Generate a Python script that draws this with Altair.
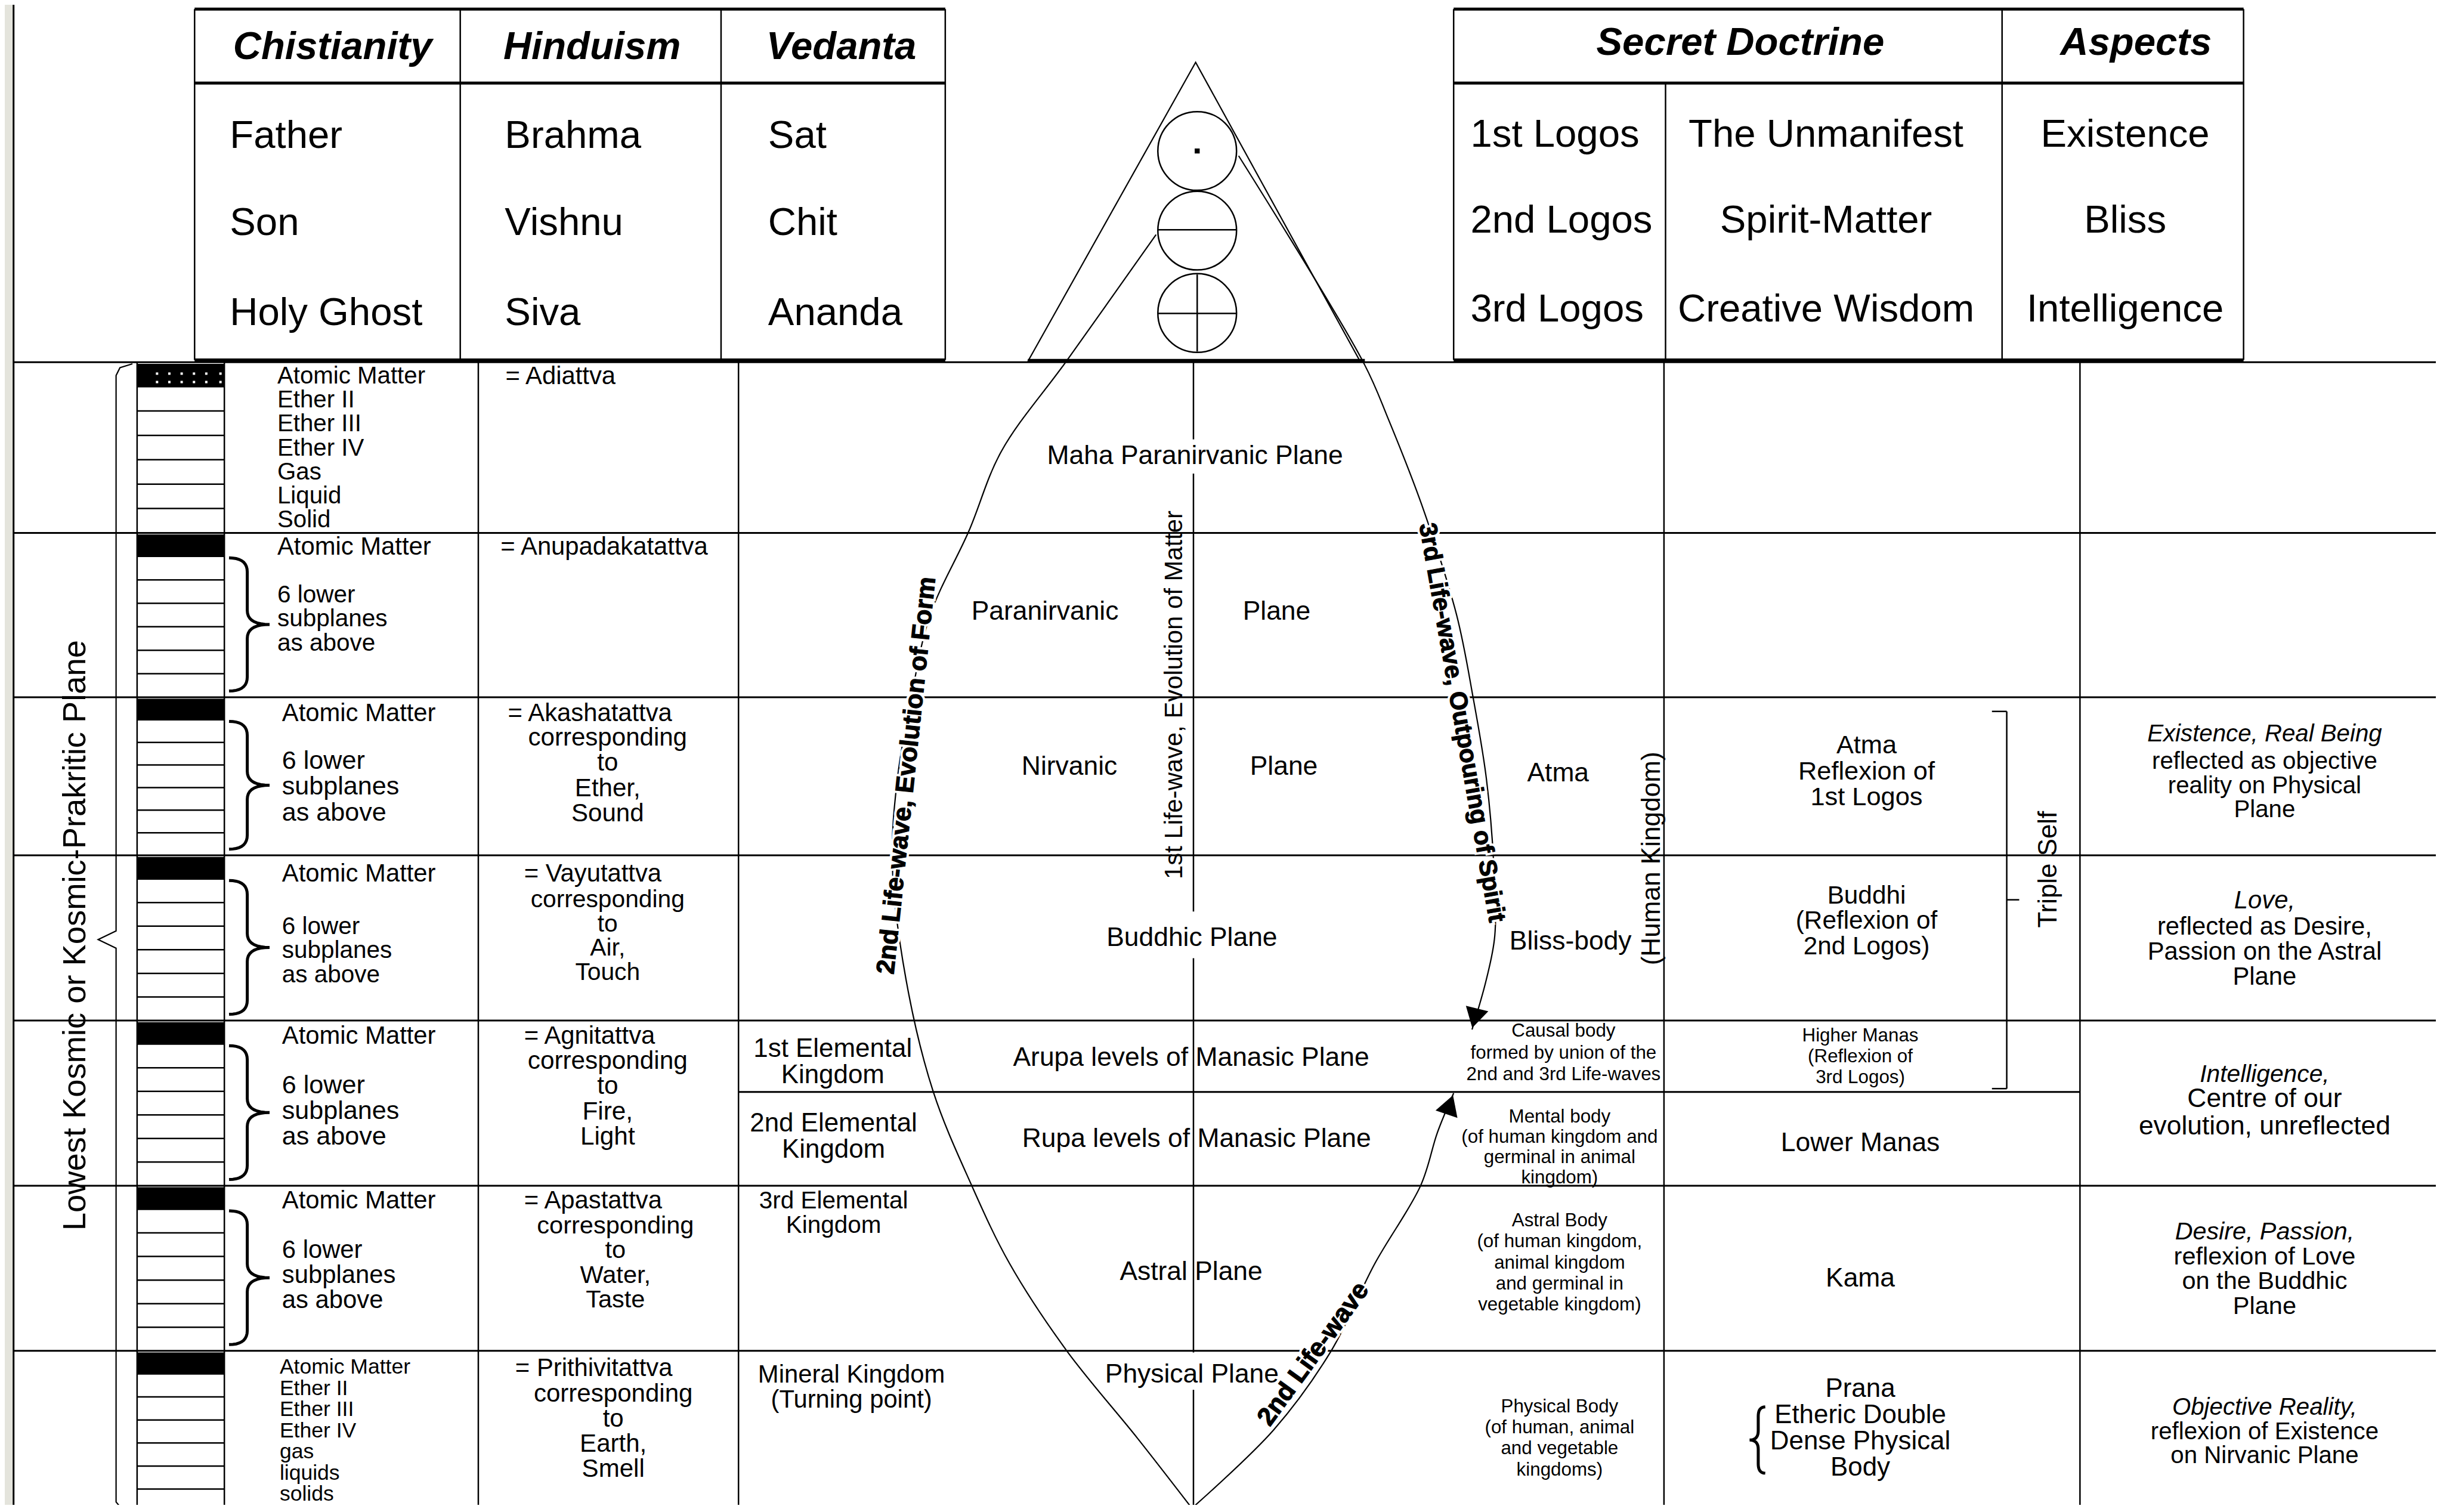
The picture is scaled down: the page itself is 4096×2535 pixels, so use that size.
import altair as alt
import pandas as pd
import numpy as np

# ---------------- geometry of the page (reference units: 1568 x 970 picture) ----------------
S = 4096 / 1568.0            # output pixels per reference unit
VIEW_W, VIEW_H = 4076, 2515
XD = [8 / S, 8 / S + VIEW_W / S]
YD = [8 / S, 8 / S + VIEW_H / S]
FONT = "Liberation Sans"

# ---------------- content ----------------
LEFT_HEADERS = ["Chistianity", "Hinduism", "Vedanta"]
LEFT_COLS = [["Father", "Son", "Holy Ghost"],
             ["Brahma", "Vishnu", "Siva"],
             ["Sat", "Chit", "Ananda"]]
RIGHT_HEADERS = ["Secret Doctrine", "Aspects"]
RIGHT_COLS = [["1st Logos", "2nd Logos", "3rd Logos"],
              ["The Unmanifest", "Spirit-Matter", "Creative Wisdom"],
              ["Existence", "Bliss", "Intelligence"]]

PLANE_EDGES = [232.5, 342, 447.5, 549, 655, 761, 867, 975]

SUBPLANES_TOP = ["Atomic Matter", "Ether II", "Ether III", "Ether IV", "Gas", "Liquid", "Solid"]
SUBPLANES_BOTTOM = ["Atomic Matter", "Ether II", "Ether III", "Ether IV", "gas", "liquids", "solids"]
LOWER_SIX = ["6 lower", "subplanes", "as above"]
TATTVAS = ["= Adiattva", "= Anupadakatattva", "= Akashatattva", "= Vayutattva",
           "= Agnitattva", "= Apastattva", "= Prithivitattva"]
ELEMENTS = [["Ether,", "Sound"], ["Air,", "Touch"], ["Fire,", "Light"],
            ["Water,", "Taste"], ["Earth,", "Smell"]]
KINGDOMS = [["1st Elemental", "Kingdom"], ["2nd Elemental", "Kingdom"],
            ["3rd Elemental", "Kingdom"], ["Mineral Kingdom", "(Turning point)"]]
PLANES = ["Maha Paranirvanic Plane", "Paranirvanic", "Plane", "Nirvanic", "Plane",
          "Buddhic Plane", "Arupa levels of Manasic Plane", "Rupa levels of Manasic Plane",
          "Astral Plane", "Physical Plane"]
BODIES_BIG = ["Atma", "Bliss-body"]
BODIES_SMALL = [["Causal body", "formed by union of the", "2nd and 3rd Life-waves"],
                ["Mental body", "(of human kingdom and", "germinal in animal", "kingdom)"],
                ["Astral Body", "(of human kingdom,", "animal kingdom", "and germinal in", "vegetable kingdom)"],
                ["Physical Body", "(of human, animal", "and vegetable", "kingdoms)"]]
PRINCIPLES = [["Atma", "Reflexion of", "1st Logos"],
              ["Buddhi", "(Reflexion of", "2nd Logos)"],
              ["Higher Manas", "(Reflexion of", "3rd Logos)"],
              ["Lower Manas"], ["Kama"],
              ["Prana", "Etheric Double", "Dense Physical", "Body"]]
ASPECT_HEADS = ["Existence, Real Being", "Love,", "Intelligence,", "Desire, Passion,", "Objective Reality,"]
ASPECT_LINES = [["reflected as objective", "reality on Physical", "Plane"],
                ["reflected as Desire,", "Passion on the Astral", "Plane"],
                ["Centre of our", "evolution, unreflected"],
                ["reflexion of Love", "on the Buddhic", "Plane"],
                ["reflexion of Existence", "on Nirvanic Plane"]]
VERTICAL_LABELS = ["Lowest Kosmic or Kosmic-Prakritic Plane", "1st Life-wave, Evolution of Matter",
                   "(Human Kingdom)", "Triple Self"]
WAVE_LABELS = ["2nd Life-wave, Evolution of Form", "3rd Life-wave, Outpouring of Spirit", "2nd Life-wave"]

# curves
LEFT_ARC = [(742, 150.6), (684.3, 232), (642.7, 289.7), (621.7, 341.2), (597, 394.7), (585, 447),
            (576, 499.7), (572.7, 554.3), (581.5, 628.6), (599, 700.7), (623.5, 760.5), (648, 811),
            (684.7, 867), (730, 923), (765, 968)]
RIGHT_ARC = [(795, 100), (875.3, 233), (891, 268.8), (913.8, 327.6), (934.9, 394.7), (945.4, 447.2),
             (954, 499.7), (958.7, 554.3), (959.4, 600.6), (954, 628.6), (944.8, 660.8)]
RISING_WAVE = [(765, 968), (817.6, 917.6), (854.4, 867), (882.4, 811), (912, 760.5), (922.6, 726.8),
               (933, 701.6)]
TRIANGLE = [(659.7, 232), (767.4, 40), (873, 232)]
KOSMIC_BRACKET = [(85, 233.5), (77, 236), (74.5, 241), (74.5, 597.5), (63, 603), (74.5, 608.6),
                  (74.5, 964), (77, 967), (85, 969)]
CIRCLES = [(768.4, 96.9), (768.4, 148), (768.4, 200.9)]

# ---------------- build tables ----------------
texts = {"c": [], "l": [], "bi": [], "i": [], "b": []}


def add(style, t, x, y, size, angle=0):
    texts[style].append({"text": t, "x": x, "y": y, "size": size * S, "angle": angle})


def block(style, lines, x, y0, step, size):
    if step > 0:
        size = min(size, step)
    for k, t in enumerate(lines):
        add(style, t, x, y0 + k * step, size)


BIG, MID, SMALL = 25, 17, 12

# top tables
for t, x in zip(LEFT_HEADERS, [213.5, 380, 540]):
    add("bi", t, x, 30.3, BIG)
for col, x in zip(LEFT_COLS, [147.5, 324, 493]):
    for t, y in zip(col, [87.3, 143, 201]):
        add("l", t, x, y, BIG)
for t, x in zip(RIGHT_HEADERS, [1117, 1371]):
    add("bi", t, x, 27.7, BIG)
for t, y in zip(RIGHT_COLS[0], [86.4, 141.8, 198.7]):
    add("l", t, 943.8, y, BIG)
for t, y in zip(RIGHT_COLS[1], [86.4, 141.8, 198.7]):
    add("c", t, 1172, y, BIG)
for t, y in zip(RIGHT_COLS[2], [86.4, 141.8, 198.7]):
    add("c", t, 1364, y, BIG)

# subplane column
block("l", SUBPLANES_TOP, 178, 241.5, 15.4, MID)
for (ya, yb, step) in [(351, 381.9, 15.5), (457.8, 488.6, 16.5), (561, 594.8, 15.5),
                       (665, 696.7, 16.5), (770.6, 802.5, 16)]:
    add("l", "Atomic Matter", 181 if ya > 400 else 178, ya, 16)
    block("l", LOWER_SIX, 181 if ya > 400 else 178, yb, step, MID)
block("l", SUBPLANES_BOTTOM, 179.5, 877.5, 13.6, MID)

# hinduism tattvas
for t, (x, y) in zip(TATTVAS, [(324.4, 241.5), (321.3, 351), (326, 458), (336.4, 561),
                               (336.4, 665), (336.4, 770.6), (330.7, 878)]):
    add("l", t, x, y, 16)
for el, (x, y, st) in zip(ELEMENTS, [(390, 473.7, 16.1), (390, 577.6, 15.6), (390, 681, 16.2),
                                     (395, 787, 15.9), (393.6, 894.5, 16.1)]):
    block("c", ["corresponding", "to"] + el, x, y, st, MID)

# elemental kingdoms
for kd, (x, y, st) in zip(KINGDOMS, [(534.5, 673.4, 16.8), (535, 721.2, 16.8), (535, 771, 15.5),
                                     (546.5, 882.5, 16)]):
    block("c", kd, x, y, st, MID)

# planes
for t, (x, y) in zip(PLANES, [(767, 293), (670.7, 392.7), (819.4, 392.7), (686.4, 492.4), (824, 492.4),
                              (765, 602), (764.5, 679), (768, 731), (764.5, 816.5), (765, 882.5)]):
    add("c", t, x, y, MID)

# bodies
for t, (x, y) in zip(BODIES_BIG, [(1000, 496.6), (1008, 604.6)]):
    add("c", t, x, y, MID)
for bd, (x, y, st) in zip(BODIES_SMALL, [(1003.5, 662, 14), (1001, 717, 13), (1001, 783.7, 13.5),
                                         (1001, 903, 13.5)]):
    block("c", bd, x, y, st, SMALL)

# principles
for pr, (x, y, st, sz) in zip(PRINCIPLES, [(1198, 478.7, 16.6, MID), (1198, 575, 16.2, MID),
                                           (1194, 665, 13.3, SMALL), (1194, 733.8, 0, MID),
                                           (1194, 820.8, 0, MID), (1194, 891.7, 16.8, MID)]):
    block("c", pr, x, y, st, sz)

# aspects
for hd, ln, (y0, y1, st) in zip(ASPECT_HEADS, ASPECT_LINES,
                                [(471.4, 489, 15.4), (578, 595, 16), (690, 705.6, 17.4),
                                 (791, 806.8, 15.9), (903.5, 919, 15.4)]):
    add("i", hd, 1453.5, y0, min(MID, st, y1 - y0))
    block("c", ln, 1453.5, y1, st, MID)

# vertical labels
for t, (x, y, sz) in zip(VERTICAL_LABELS, [(48.8, 600.3, 20.8), (753.7, 446, 16),
                                           (1060.4, 551, 16.9), (1315, 558, 16.8)]):
    add("c", t, x, y, sz, 270)

# life-wave labels (laid along the curves)
for t, (x, y, a, sz) in zip(WAVE_LABELS, [(582, 497.7, 276, 16.3), (938, 463.8, 80, 15.8),
                                          (843, 869, 306, 16.5)]):
    add("b", t, x, y, sz, a)

# ---- straight rules ----
hrules, vrules = [], []
for (a, b) in [(124.9, 606.7), (933, 1440)]:
    for y in [5.8, 53.3, 231]:
        hrules.append({"x": a, "x2": b, "y": y, "w": 5})
hrules.append({"x": 659.7, "x2": 876, "y": 231.3, "w": 5})
for y in PLANE_EDGES[:-1]:
    hrules.append({"x": 8.7, "x2": 1570, "y": y, "w": 3})
hrules.append({"x": 474, "x2": 1335, "y": 700.8, "w": 3})
for top, bot in zip(PLANE_EDGES[:-1], PLANE_EDGES[1:]):
    h = (min(bot, 970.5) - top) / 7
    for k in range(1, 7):
        hrules.append({"x": 88, "x2": 144, "y": top + k * h, "w": 2.5})
hrules += [{"x": 743, "x2": 793.8, "y": 147.5, "w": 2.5},
           {"x": 743, "x2": 793.8, "y": 201.2, "w": 2.5},
           {"x": 1278.5, "x2": 1288, "y": 456.6, "w": 2.5},
           {"x": 1278.5, "x2": 1288, "y": 698.7, "w": 2.5},
           {"x": 1288, "x2": 1296, "y": 577.5, "w": 2.5}]

for x in [124.9, 295.4, 462.8, 606.7, 933, 1285, 1440]:
    vrules.append({"x": x, "y": 5.8, "y2": 231, "w": 2.5})
vrules.append({"x": 1069, "y": 53.3, "y2": 231, "w": 2.5})
vrules.append({"x": 8.7, "y": 0, "y2": 975, "w": 3})
for x in [88, 144, 307, 474, 1068, 1335]:
    vrules.append({"x": x, "y": 232, "y2": 975, "w": 2.5})
for a, b in [(232, 282), (304, 585), (615, 868), (892, 975)]:
    vrules.append({"x": 766, "y": a, "y2": b, "w": 2.5})
vrules.append({"x": 768.4, "y": 176.2, "y2": 225.6, "w": 2.5})
vrules.append({"x": 1288, "y": 456.6, "y2": 698.7, "w": 2.5})

# black atomic cells
rects = []
for top, bot in zip(PLANE_EDGES[:-1], PLANE_EDGES[1:]):
    h = (min(bot, 970.5) - top) / 7
    rects.append({"x": 88, "x2": 144, "y": top + 1, "y2": top + h})

# ---- polylines ----
paths_lin, paths_smooth = [], []


def add_path(store, pid, pts):
    for k, (x, y) in enumerate(pts):
        store.append({"id": pid, "ord": k, "x": x, "y": y})


def quad(p0, p1, p2, n=10):
    out = []
    for t in np.linspace(0, 1, n):
        out.append(((1 - t) ** 2 * p0[0] + 2 * (1 - t) * t * p1[0] + t ** 2 * p2[0],
                    (1 - t) ** 2 * p0[1] + 2 * (1 - t) * t * p1[1] + t ** 2 * p2[1]))
    return out


def brace(x0, y0, y1, w, d):
    ym = (y0 + y1) / 2
    r = min(9, (y1 - y0) * 0.14)
    xm = x0 + d * w * 0.45
    xt = x0 + d * w
    pts = quad((x0, y0), (xm, y0), (xm, y0 + r))
    pts += quad((xm, ym - r), (xm, ym), (xt, ym))
    pts += quad((xt, ym), (xm, ym), (xm, ym + r))
    pts += quad((xm, y1 - r), (xm, y1), (x0, y1))
    return pts


add_path(paths_lin, "tri", TRIANGLE)
add_path(paths_lin, "kosmic", KOSMIC_BRACKET)
for n, (top, bot) in enumerate(zip(PLANE_EDGES[1:6], PLANE_EDGES[2:7])):
    h = (bot - top) / 7
    add_path(paths_lin, f"br{n}", brace(147, top + h + 1, bot - 4, 26, 1))
add_path(paths_lin, "eth", brace(1133, 903, 945.5, 10, -1))

add_path(paths_smooth, "left", LEFT_ARC)
add_path(paths_smooth, "right", RIGHT_ARC)
add_path(paths_smooth, "rise", RISING_WAVE)

brace_ids = [f"br{n}" for n in range(5)] + ["eth"]
lin_df = pd.DataFrame(paths_lin)
thin_df = lin_df[~lin_df["id"].isin(brace_ids)]
thick_df = lin_df[lin_df["id"].isin(brace_ids)]

circles = pd.DataFrame([{"x": x, "y": y} for x, y in CIRCLES])
arrows = pd.DataFrame([{"x": 946.5, "y": 653.5, "angle": 194}, {"x": 930.5, "y": 709, "angle": 19}])
dots = pd.DataFrame([{"x": x, "y": y} for y in [239.8, 245.2] for x in [100.8, 108.7, 116.6, 124.5, 132.4, 141.5]])
strip = pd.DataFrame([{"x": 0, "x2": 8.2, "y": 0, "y2": 975}])

# ---------------- encodings ----------------
XS = alt.Scale(domain=XD, nice=False, zero=False)
YS = alt.Scale(domain=YD, nice=False, zero=False, reverse=True)
X = alt.X("x:Q", scale=XS, axis=None)
Y = alt.Y("y:Q", scale=YS, axis=None)

layers = []
layers.append(alt.Chart(strip).mark_rect(color="#e4e4dc").encode(x=X, x2="x2:Q", y=Y, y2="y2:Q"))
layers.append(alt.Chart(pd.DataFrame(rects)).mark_rect(color="black").encode(x=X, x2="x2:Q", y=Y, y2="y2:Q"))
layers.append(alt.Chart(dots).mark_point(shape="square", filled=True, color="white", size=16, opacity=1)
              .encode(x=X, y=Y))
layers.append(alt.Chart(pd.DataFrame(hrules)).mark_rule(color="black").encode(
    x=X, x2="x2:Q", y=Y, strokeWidth=alt.StrokeWidth("w:Q", scale=None)))
layers.append(alt.Chart(pd.DataFrame(vrules)).mark_rule(color="black").encode(
    x=X, y=Y, y2="y2:Q", strokeWidth=alt.StrokeWidth("w:Q", scale=None)))
layers.append(alt.Chart(thin_df).mark_line(color="black", strokeWidth=2.2).encode(
    x=X, y=Y, detail="id:N", order="ord:Q"))
layers.append(alt.Chart(thick_df).mark_line(color="black", strokeWidth=5).encode(
    x=X, y=Y, detail="id:N", order="ord:Q"))
layers.append(alt.Chart(pd.DataFrame(paths_smooth)).mark_line(color="black", strokeWidth=2.2,
                                                             interpolate="catmull-rom").encode(
    x=X, y=Y, detail="id:N", order="ord:Q"))
layers.append(alt.Chart(circles).mark_point(shape="circle", filled=False, color="black",
                                            strokeWidth=2.5, size=(50.5 * S) ** 2, opacity=1).encode(x=X, y=Y))
layers.append(alt.Chart(pd.DataFrame([{"x": 768.4, "y": 96.9}])).mark_point(
    shape="square", filled=True, color="black", size=70, opacity=1).encode(x=X, y=Y))
layers.append(alt.Chart(arrows).mark_point(shape="triangle-up", filled=True, color="black",
                                           size=1500, opacity=1).encode(
    x=X, y=Y, angle=alt.Angle("angle:Q", scale=None)))

TEXT_ENC = dict(x=X, y=Y, text="text:N",
                size=alt.Size("size:Q", scale=None),
                angle=alt.Angle("angle:Q", scale=None))

# white halo under the life-wave labels so they sit on top of the curves
layers.append(alt.Chart(pd.DataFrame(texts["b"])).mark_text(
    baseline="middle", align="center", font=FONT, fontWeight="bold",
    color="white", stroke="white", strokeWidth=9).encode(**TEXT_ENC))

style_marks = {
    "c": dict(align="center"),
    "l": dict(align="left"),
    "bi": dict(align="center", fontWeight="bold", fontStyle="italic"),
    "i": dict(align="center", fontStyle="italic"),
    "b": dict(align="center", fontWeight="bold", stroke="black", strokeWidth=1.2),
}
for st, rows in texts.items():
    if not rows:
        continue
    layers.append(alt.Chart(pd.DataFrame(rows)).mark_text(
        baseline="middle", font=FONT, color="black", **style_marks[st]).encode(**TEXT_ENC))

chart = alt.layer(*layers).properties(
    width=VIEW_W, height=VIEW_H, padding=0,
    autosize=alt.AutoSizeParams(type="none"),
    background="white",
).configure_view(strokeWidth=0)

chart.save("out.html", embed_options={"renderer": "svg", "actions": False})
